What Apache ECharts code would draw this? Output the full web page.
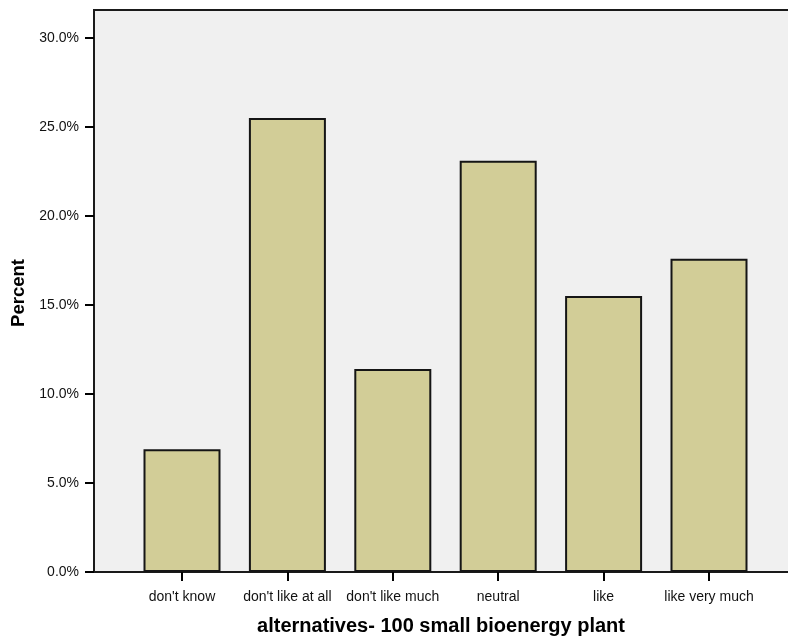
<!DOCTYPE html>
<html>
<head>
<meta charset="utf-8">
<script src="https://cdn.jsdelivr.net/npm/echarts@6/dist/echarts.min.js"></script>
<style>html,body{margin:0;padding:0;background:#fff;}#c{width:788px;height:640px;}</style>
</head>
<body>
<div id="c"></div>
<script>
var categories = ["don't know", "don't like at all", "don't like much", "neutral", "like", "like very much"];
var percentValues = [6.9, 25.5, 11.4, 23.1, 15.5, 17.6];
var yTicks = [0, 5, 10, 15, 20, 25, 30];
var xTitle = 'alternatives- 100 small bioenergy plant';
var yTitle = 'Percent';

var FONT = '"Liberation Sans", Arial, sans-serif';
var chart = echarts.init(document.getElementById('c'), null, {renderer: 'canvas'});
var yMax = yTicks[yTicks.length - 1];
var yInterval = yTicks[1] - yTicks[0];

chart.setOption({
  animation: false,
  backgroundColor: '#ffffff',
  grid: [
    {left: 94, top: 10, width: 710, bottom: 68, show: true, backgroundColor: '#f0f0f0', borderColor: '#1a1a1a', borderWidth: 2, z: 0, outerBoundsMode: 'none', containLabel: false},
    {left: 94, top: 38, width: 710, bottom: 68, outerBoundsMode: 'none', containLabel: false},
    {left: 129.3, width: 632.4, top: 38, bottom: 68, outerBoundsMode: 'none', containLabel: false}
  ],
  xAxis: [
    {gridIndex: 0, type: 'value', show: false},
    {gridIndex: 1, type: 'value', show: false},
    {gridIndex: 2, type: 'category', data: categories, boundaryGap: true,
     axisLine: {show: false},
     axisTick: {show: true, alignWithLabel: true, length: 9, lineStyle: {color: '#000', width: 2}},
     axisLabel: {margin: 18, color: '#111', fontFamily: FONT, fontSize: 14, interval: 0},
     splitLine: {show: false}}
  ],
  yAxis: [
    {gridIndex: 0, type: 'value', show: false},
    {gridIndex: 1, type: 'value', min: 0, max: yMax, interval: yInterval,
     axisLine: {show: false},
     axisTick: {show: true, inside: false, length: 9, lineStyle: {color: '#000', width: 2}},
     axisLabel: {margin: 15, color: '#111', fontFamily: FONT, fontSize: 14,
       formatter: function (v) { return v.toFixed(1) + '%'; }},
     splitLine: {show: false}},
    {gridIndex: 2, type: 'value', min: 0, max: yMax, show: false}
  ],
  series: [{
    type: 'bar',
    xAxisIndex: 2, yAxisIndex: 2,
    data: percentValues,
    barWidth: 77,
    itemStyle: {color: '#d2cd97', borderColor: '#151515', borderWidth: 2},
    z: 3
  }],
  graphic: [
    {type: 'text', x: 441, y: 626, z: 10,
     style: {text: xTitle, align: 'center', verticalAlign: 'middle', fill: '#000', font: 'bold 20px ' + FONT}},
    {type: 'text', x: 19, y: 293, rotation: Math.PI / 2, z: 10,
     style: {text: yTitle, align: 'center', verticalAlign: 'middle', fill: '#000', font: 'bold 18.5px ' + FONT}}
  ]
});
</script>
</body>
</html>
